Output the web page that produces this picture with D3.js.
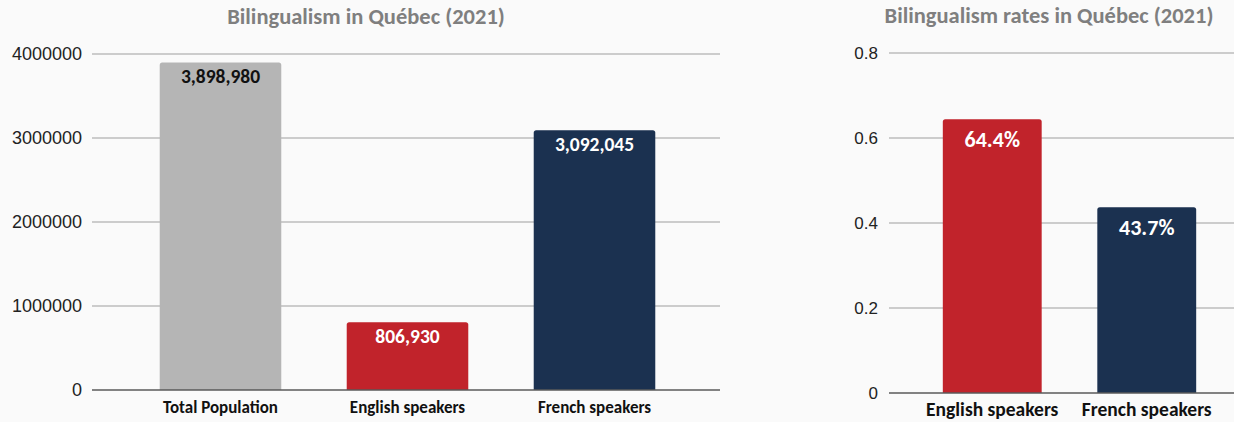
<!DOCTYPE html>
<html>
<head>
<meta charset="utf-8">
<script src="https://cdn.jsdelivr.net/npm/d3@7"></script>
<style>
  html, body { margin: 0; padding: 0; background: #fafafa; }
  svg { display: block; font-family: Carlito, "Liberation Sans Narrow", "Open Sans", sans-serif; }
</style>
</head>
<body>
<svg id="chart" width="1234" height="422"></svg>
<script>
// Population counts
const popCategories = ["Total Population", "English speakers", "French speakers"];
const popValues = [3898980, 806930, 3092045];
const popTicks = [0, 1000000, 2000000, 3000000, 4000000];
const popColors = ["#b5b5b5", "#c1232b", "#1b3150"];
const popLabelColors = ["#111111", "#ffffff", "#ffffff"];

// Bilingualism rates
const rateCategories = ["English speakers", "French speakers"];
const rateValues = [0.644, 0.437];
const rateTicks = [0, 0.2, 0.4, 0.6, 0.8];
const rateColors = ["#c1232b", "#1b3150"];

const svg = d3.select("#chart");

function panel(opts) {
  const g = svg.append("g");
  const y = d3.scaleLinear().domain(opts.domain).range([opts.bottom, opts.top]);
  const x = d3.scaleBand().domain(opts.categories).range(opts.xRange).paddingInner(opts.pad).paddingOuter(opts.pad / 2);

  // tick labels and gridlines
  const yAxis = d3.axisLeft(y).tickValues(opts.ticks).tickSize(0).tickPadding(opts.tickPad).tickFormat(opts.tickFormat);
  const ag = g.append("g").attr("transform", `translate(${opts.gridLeft},0)`).call(yAxis);
  ag.select(".domain").remove();
  ag.selectAll("text").attr("font-size", opts.tickSize).attr("fill", "#222").attr("font-family", null);
  g.append("g").selectAll("line").data(opts.ticks.filter(t => t !== 0)).join("line")
    .attr("x1", opts.gridLeft).attr("x2", opts.gridRight)
    .attr("y1", d => y(d)).attr("y2", d => y(d))
    .attr("stroke", "#bdbdbd").attr("stroke-width", 1.5);

  // bars with slightly rounded tops
  const r = 2.5;
  g.append("g").selectAll("path").data(opts.values).join("path")
    .attr("fill", (d, i) => opts.colors[i])
    .attr("d", (d, i) => {
      const x0 = x(opts.categories[i]), w = x.bandwidth();
      const y0 = y(d), y1 = y(0);
      return `M${x0},${y1}V${y0 + r}Q${x0},${y0} ${x0 + r},${y0}H${x0 + w - r}Q${x0 + w},${y0} ${x0 + w},${y0 + r}V${y1}Z`;
    });

  // baseline
  g.append("line").attr("x1", opts.gridLeft).attr("x2", opts.gridRight)
    .attr("y1", y(0)).attr("y2", y(0)).attr("stroke", "#5a5a5a").attr("stroke-width", 1.5);

  // value labels
  g.append("g").selectAll("text").data(opts.values).join("text")
    .attr("x", (d, i) => x(opts.categories[i]) + x.bandwidth() / 2)
    .attr("y", d => y(d) + opts.labelOffset)
    .attr("text-anchor", "middle").attr("font-weight", "bold")
    .attr("font-size", opts.labelSize)
    .attr("fill", (d, i) => opts.labelColors[i])
    .text(opts.labelFormat);

  // category labels
  g.append("g").selectAll("text").data(opts.categories).join("text")
    .attr("x", d => x(d) + x.bandwidth() / 2)
    .attr("y", opts.catY)
    .attr("text-anchor", "middle").attr("font-weight", "bold")
    .attr("font-size", opts.catSize).attr("fill", "#111")
    .text(d => d);

  // title
  g.append("text").attr("x", opts.titleX).attr("y", opts.titleY)
    .attr("text-anchor", "middle").attr("font-weight", "bold")
    .attr("font-size", opts.titleSize).attr("fill", "#7f7f7f")
    .text(opts.title);
}

panel({
  title: "Bilingualism in Québec (2021)", titleX: 366, titleY: 24, titleSize: 22.5,
  categories: popCategories, values: popValues, ticks: popTicks, colors: popColors,
  labelColors: popLabelColors,
  domain: [0, 4000000], top: 54, bottom: 390,
  xRange: [127, 688], pad: 0.35,
  gridLeft: 92, gridRight: 720, tickPad: 10, tickSize: 18,
  tickFormat: d3.format("d"),
  labelOffset: 21, labelSize: 19.5, labelFormat: d3.format(","),
  catY: 413, catSize: 17
});

panel({
  title: "Bilingualism rates in Québec (2021)", titleX: 1049, titleY: 23, titleSize: 22.5,
  categories: rateCategories, values: rateValues, ticks: rateTicks, colors: rateColors,
  labelColors: ["#ffffff", "#ffffff"],
  domain: [0, 0.8], top: 53, bottom: 393,
  xRange: [915, 1224], pad: 0.36,
  gridLeft: 889, gridRight: 1234, tickPad: 11, tickSize: 17,
  tickFormat: d => d === 0 ? "0" : d3.format(".1f")(d),
  labelOffset: 28, labelSize: 22, labelFormat: d => d3.format(".1%")(d),
  catY: 416, catSize: 19.5
});
</script>
</body>
</html>
